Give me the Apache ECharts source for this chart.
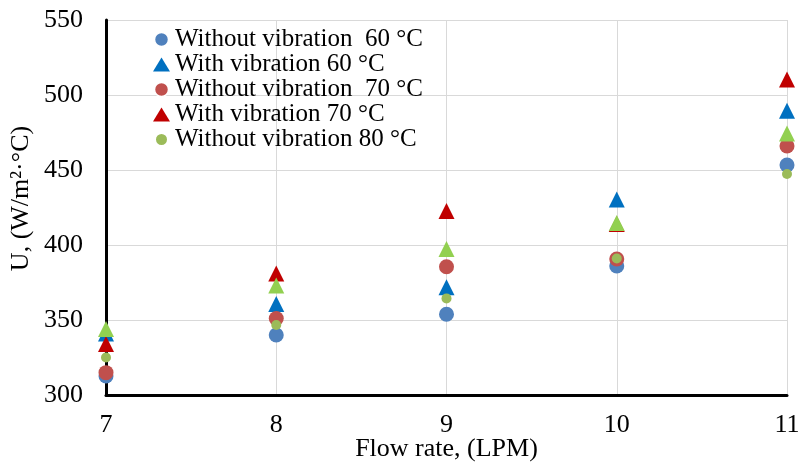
<!DOCTYPE html>
<html>
<head>
<meta charset="utf-8">
<script src="https://cdn.jsdelivr.net/npm/echarts@6/dist/echarts.min.js"></script>
<style>
  html, body { margin: 0; padding: 0; background: #fff; }
  #chart { width: 799px; height: 465px; }
</style>
</head>
<body>
<div id="chart"></div>
<script>
    var flowRates = [7, 8, 9, 10, 11];
    var woVib60 = [312.7, 340, 353.8, 386, 453.3];
    var wVib60 = [341, 360.7, 371.8, 430.4, 489.5];
    var woVib70 = [314.9, 351, 385.5, 390.7, 466];
    var wVib70 = [334, 381, 422.7, 414, 510.4];
    var woVib80 = [325, 346.7, 364.4, 391, 447.3];
    var wVib80 = [344, 373, 397.3, 414.6, 474.4];

    var serif = '"Liberation Serif", "DejaVu Serif", serif';

    var pairUp = function (ys) {
        var out = [];
        for (var i = 0; i < flowRates.length; i++) {
            out.push([flowRates[i], ys[i]]);
        }
        return out;
    };

    var makeSeries = function (name, ys, symbol, size, color) {
        return {
            name: name,
            type: 'scatter',
            data: pairUp(ys),
            symbol: symbol,
            symbolSize: size,
            itemStyle: { color: color, opacity: 1 },
            emphasis: { disabled: true }
        };
    };

    var chart = echarts.init(document.getElementById('chart'));
    chart.setOption({
        animation: false,
        grid: {
            left: 106, right: 12, top: 20, bottom: 70,
            containLabel: false,
            outerBoundsMode: 'none'
        },
        legend: {
            orient: 'vertical',
            left: 148,
            top: 22,
            itemGap: 0,
            itemWidth: 17,
            itemHeight: 14,
            textStyle: { fontFamily: serif, fontSize: 25, color: '#000', lineHeight: 25 },
            data: [
                { name: 'Without vibration  60 °C', icon: 'circle', itemStyle: { borderWidth: 1.5, borderColor: '#fff' } },
                { name: 'With vibration 60 °C', icon: 'triangle' },
                { name: 'Without vibration  70 °C', icon: 'circle', itemStyle: { borderWidth: 1.5, borderColor: '#fff' } },
                { name: 'With vibration 70 °C', icon: 'triangle' },
                { name: 'Without vibration 80 °C', icon: 'circle', itemStyle: { borderWidth: 3, borderColor: '#fff' } }
            ]
        },
        xAxis: {
            type: 'value',
            min: 7,
            max: 11,
            interval: 1,
            name: 'Flow rate, (LPM)',
            nameLocation: 'middle',
            nameGap: 41,
            nameMoveOverlap: false,
            nameTextStyle: { fontFamily: serif, fontSize: 26, color: '#000' },
            axisLine: { show: true, lineStyle: { color: '#000', width: 3 } },
            axisTick: { show: false },
            axisLabel: { fontFamily: serif, fontSize: 26, color: '#000', margin: 17 },
            splitLine: { show: true, lineStyle: { color: '#d9d9d9', width: 1 } }
        },
        yAxis: {
            type: 'value',
            min: 300,
            max: 550,
            interval: 50,
            name: 'U, (W/m²·°C)',
            nameLocation: 'middle',
            nameGap: 72,
            nameMoveOverlap: false,
            nameRotate: 90,
            nameTextStyle: { fontFamily: serif, fontSize: 26, color: '#000', padding: [0, 0, 0, 18] },
            axisLine: { show: true, lineStyle: { color: '#000', width: 3 } },
            axisTick: { show: false },
            axisLabel: { fontFamily: serif, fontSize: 26, color: '#000', margin: 23 },
            splitLine: { show: true, lineStyle: { color: '#d9d9d9', width: 1 } }
        },
        series: [
            makeSeries('Without vibration  60 °C', woVib60, 'circle', 15, '#4f81bd'),
            makeSeries('With vibration 60 °C', wVib60, 'triangle', 16, '#0070c0'),
            makeSeries('Without vibration  70 °C', woVib70, 'circle', 15, '#c0504d'),
            makeSeries('With vibration 70 °C', wVib70, 'triangle', 16, '#c00000'),
            makeSeries('Without vibration 80 °C', woVib80, 'circle', 10, '#9bbb59'),
            makeSeries('With vibration 80 °C', wVib80, 'triangle', 16, '#92d050')
        ]
    });
</script>
</body>
</html>
